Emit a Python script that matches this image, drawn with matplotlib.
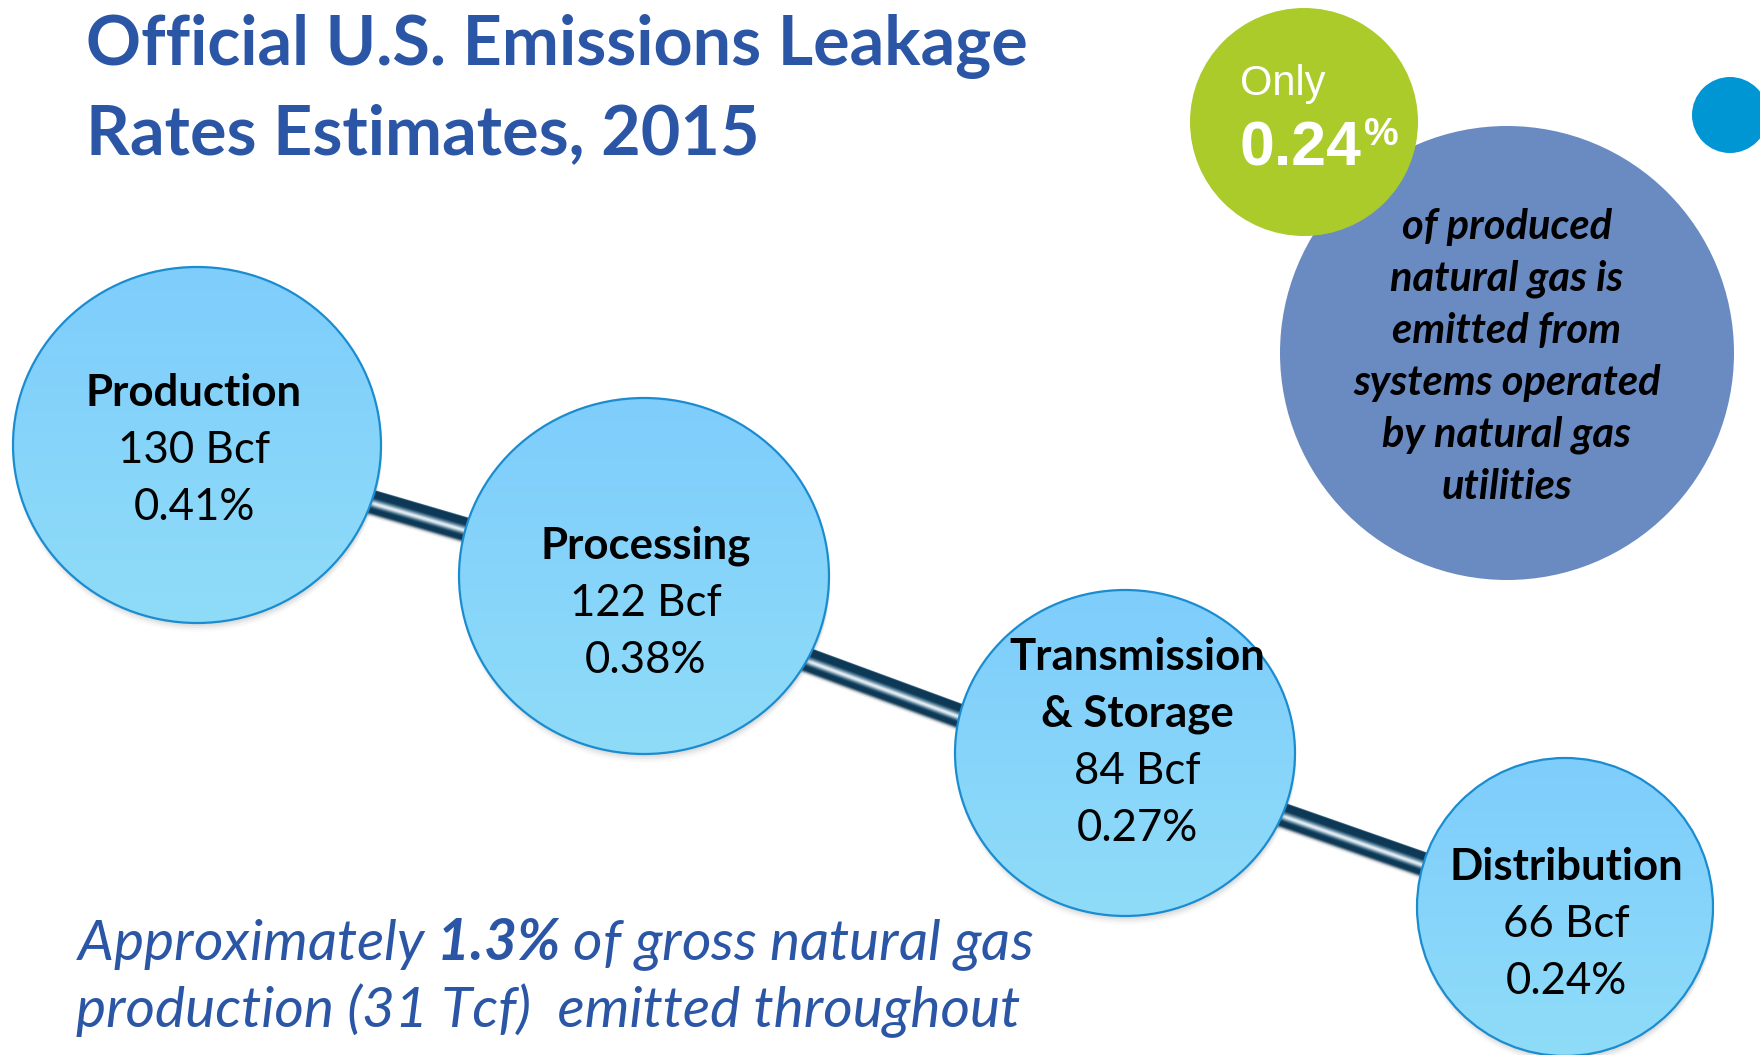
import numpy as np
import matplotlib
matplotlib.use("Agg")
import matplotlib.pyplot as plt
from matplotlib.patches import Ellipse, Circle
from matplotlib.colors import LinearSegmentedColormap, to_rgb

# ---------------------------
# data
# ---------------------------
stages = ["Production", "Processing", "Transmission\n& Storage", "Distribution"]
volume_bcf = [130, 122, 84, 66]
leak_pct = [0.41, 0.38, 0.27, 0.24]
utility_pct = 0.24
total_pct = 1.3
gross_tcf = 31
title_lines = ["Official U.S. Emissions Leakage", "Rates Estimates, 2015"]
utility_note = ["of produced", "natural gas is", "emitted from",
                "systems operated", "by natural gas", "utilities"]

# ---------------------------
# layout (pixel units, y goes down)
# ---------------------------
W, H = 1760, 1055
node_x = [197, 644, 1125, 1565]
node_y = [445, 576, 753, 907]
node_rx = [184, 185, 170, 148]
node_ry = [178, 178, 163, 149]
label_x = [194, 646, 1137, 1566]
label_y0 = [406, 559, 670, 880]
line_gap = 57
pipe_drop = [6, 24, 7]

BLUE_TXT = "#2b56a6"
SANS = "Lato"

plt.rcParams["mathtext.fontset"] = "custom"
plt.rcParams["mathtext.bf"] = "Lato:italic:bold"

fig = plt.figure(figsize=(W / 100, H / 100), dpi=100)
ax = fig.add_axes([0, 0, 1, 1])
ax.axis("off")
ax.set_xlim(0, W)
ax.set_ylim(H, 0)
ax.set_autoscale_on(False)
renderer = fig.canvas.get_renderer()


def fit(t, width):
    w = t.get_window_extent(renderer).width
    t.set_fontsize(t.get_fontsize() * width / w)
    return t.get_fontsize()


# ---------------------------
# pipes between the stages (shaded tube, drawn as thin parallel strokes)
# ---------------------------
prof_pos = [0, 1, 2, 8, 10, 12, 13.5, 15, 16.5, 18, 19.5, 23, 24.5, 26, 27]
prof_col = ["#ffffff", "#234f6c", "#0c3856", "#0e3a58", "#4a7590", "#a9c2d1",
            "#eef3f6", "#c5d5df", "#6f93a9", "#2a5571", "#0c3856", "#0d3a57",
            "#6d808d", "#d0d6da", "#ffffff"]
prof_rgb = np.array([to_rgb(c) for c in prof_col])

for i in range(len(stages) - 1):
    x0, y0 = node_x[i], node_y[i] + pipe_drop[i]
    x1, y1 = node_x[i + 1], node_y[i + 1] + pipe_drop[i]
    d = np.hypot(x1 - x0, y1 - y0)
    nx, ny = -(y1 - y0) / d, (x1 - x0) / d
    for t in np.arange(0, 27, 0.5):
        c = [np.interp(t, prof_pos, prof_rgb[:, k]) for k in range(3)]
        off = t - 12.5
        ax.plot([x0 + nx * off, x1 + nx * off], [y0 + ny * off, y1 + ny * off],
                color=c, lw=0.9, solid_capstyle="butt", zorder=1)

# ---------------------------
# stage bubbles
# ---------------------------
cm_node = LinearSegmentedColormap.from_list("node", ["#7ecdfc", "#8fdcf8"])
grad = np.linspace(0, 1, 256).reshape(-1, 1)

for i, name in enumerate(stages):
    x, y, rx, ry = node_x[i], node_y[i], node_rx[i], node_ry[i]
    for dy, a in [(3, 0.07), (5, 0.05), (7, 0.035), (9, 0.02)]:
        ax.add_patch(Ellipse((x + 1, y + dy), 2 * rx, 2 * ry, fc="#444444",
                             ec="none", alpha=a, zorder=2))
    ell = Ellipse((x, y), 2 * rx, 2 * ry, fc="none", ec="#1a8ccf", lw=1.6, zorder=4)
    ax.add_patch(ell)
    im = ax.imshow(grad, cmap=cm_node, extent=(x - rx, x + rx, y + ry, y - ry),
                   aspect="auto", interpolation="bilinear", zorder=3)
    im.set_clip_path(ell)

    lines = [(s, "bold") for s in name.split("\n")]
    lines += [(f"{volume_bcf[i]} Bcf", "normal"), (f"{leak_pct[i]:.2f}%", "normal")]
    for j, (s, wt) in enumerate(lines):
        ax.text(label_x[i], label_y0[i] + j * line_gap, s, ha="center", va="baseline",
                fontsize=31.5, fontweight=wt, family=SANS, color="black", zorder=5)

# ---------------------------
# utilities bubbles
# ---------------------------
ax.add_patch(Circle((1507, 353), 227, fc="#6a8ac2", ec="none", zorder=2))
ax.add_patch(Circle((1304, 122), 114, fc="#abcb2b", ec="none", zorder=3))
ax.add_patch(Circle((1730, 115), 38, fc="#0096d4", ec="none", zorder=2))

ax.text(1240, 95, "Only", ha="left", va="baseline", fontsize=30,
        family="Liberation Sans", color="white", zorder=5)
big = ax.text(1240, 165, f"{utility_pct:.2f}", ha="left", va="baseline", fontsize=45,
              fontweight="bold", family="Liberation Sans", color="white", zorder=5)
bx = ax.transData.inverted().transform(big.get_window_extent(renderer).get_points())[1][0]
ax.text(bx + 2, 145, "%", ha="left", va="baseline", fontsize=28,
        fontweight="bold", family="Liberation Sans", color="white", zorder=5)

note = []
for j, s in enumerate(utility_note):
    note.append(ax.text(1507, 239 + j * 52, s, ha="center", va="baseline", fontsize=30,
                        fontweight="bold", style="italic", family=SANS,
                        color="black", zorder=5))
fs = fit(note[3], 307)
for t in note:
    t.set_fontsize(fs)

# ---------------------------
# title + footer text
# ---------------------------
t1 = ax.text(86, 65, title_lines[0], ha="left", va="baseline", fontsize=50,
             fontweight="bold", family=SANS, color=BLUE_TXT)
t2 = ax.text(86, 154, title_lines[1], ha="left", va="baseline", fontsize=50,
             fontweight="bold", family=SANS, color=BLUE_TXT)
t2.set_fontsize(fit(t1, 944))

b1 = ax.text(76, 960, f"Approximately $\\mathbf{{{total_pct}\\%}}$ of gross natural gas",
             ha="left", va="baseline", fontsize=38, style="italic", family=SANS,
             color=BLUE_TXT)
b2 = ax.text(76, 1027, f"production ({gross_tcf} Tcf)  emitted throughout",
             ha="left", va="baseline", fontsize=38, style="italic", family=SANS,
             color=BLUE_TXT)
b2.set_fontsize(fit(b1, 957))

fig.savefig("out.png", dpi=100, facecolor="white")
